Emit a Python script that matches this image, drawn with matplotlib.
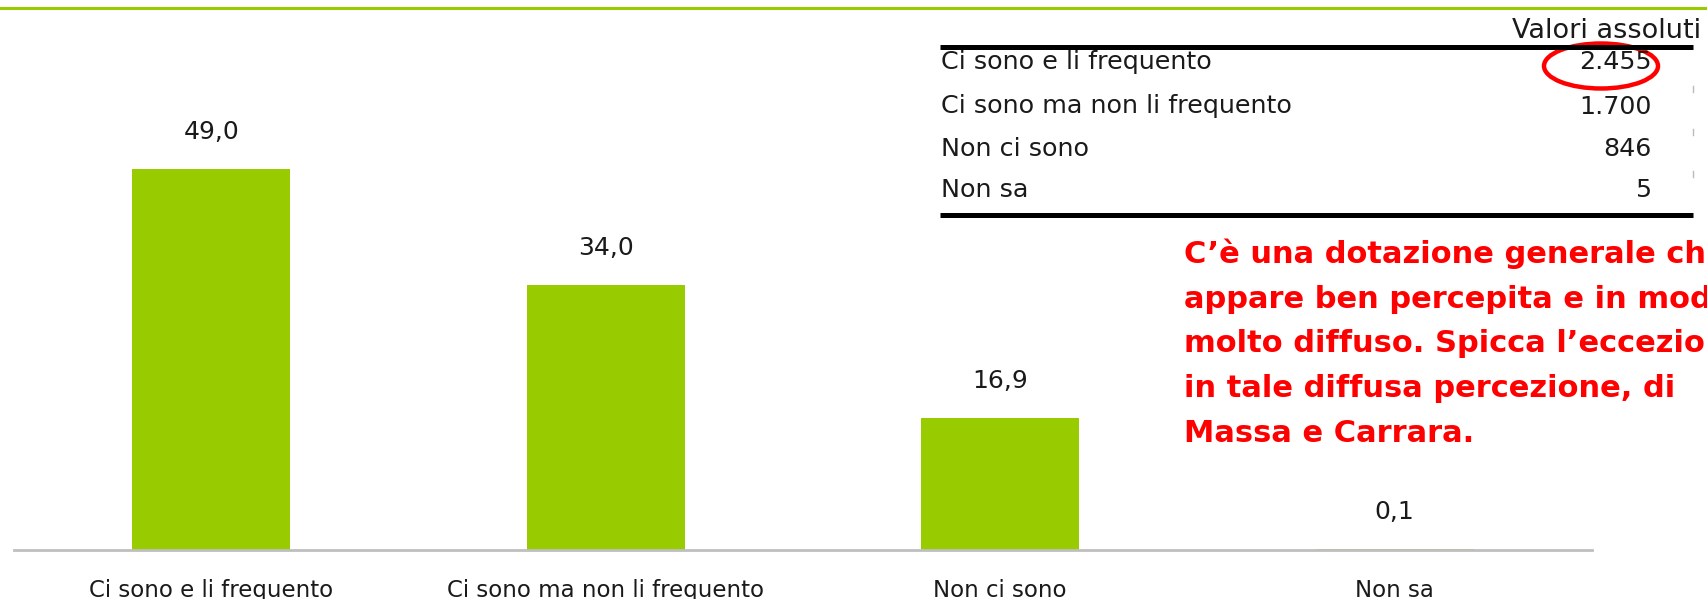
import matplotlib
matplotlib.use("Agg")
import matplotlib.pyplot as plt
from matplotlib.patches import Ellipse
from matplotlib.lines import Line2D

# ---- data ----
categories = ["Ci sono e li frequento", "Ci sono ma non li frequento", "Non ci sono", "Non sa"]
percentages = [49.0, 34.0, 16.9, 0.1]
absolute_values = [2455, 1700, 846, 5]
table_header = "Valori assoluti"
note_lines = [
    "C\u2019è una dotazione generale che",
    "appare ben percepita e in modo",
    "molto diffuso. Spicca l\u2019eccezione,",
    "in tale diffusa percezione, di",
    "Massa e Carrara.",
]

GREEN = "#99CC00"
W, H = 1708, 599

def fmt_pct(v):
    return f"{v:.1f}".replace(".", ",")

def fmt_abs(v):
    return f"{v:,}".replace(",", ".")

fig = plt.figure(figsize=(W / 100, H / 100), dpi=100)
fig.patch.set_facecolor("white")

# main bar axes
ax = fig.add_axes([14 / W, 49.5 / H, (1592 - 14) / W, 543.6 / H])
x = list(range(len(categories)))
ax.bar(x, percentages, width=0.4, color=GREEN, zorder=2)
ax.set_xlim(-0.5, len(categories) - 0.5)
ax.set_ylim(0, 70)
for s in ["top", "right", "left"]:
    ax.spines[s].set_visible(False)
ax.spines["bottom"].set_color("#BFBFBF")
ax.spines["bottom"].set_linewidth(2.0)
ax.set_xticks([])
ax.set_yticks([])
ax.patch.set_alpha(0)

for xi, v, cat in zip(x, percentages, categories):
    ax.annotate(fmt_pct(v), xy=(xi, v), xytext=(0, 30), textcoords="offset pixels",
                ha="center", va="baseline", fontsize=18, color="#1a1a1a")
    ax.annotate(cat, xy=(xi, 0), xytext=(0, -47.5), textcoords="offset pixels",
                ha="center", va="baseline", fontsize=16.5, color="#1a1a1a",
                annotation_clip=False)

# overlay axes in pixel coordinates for decorations / table / note
ov = fig.add_axes([0, 0, 1, 1])
ov.set_xlim(0, W)
ov.set_ylim(H, 0)
ov.axis("off")
ov.patch.set_alpha(0)

# top green rule
ov.add_line(Line2D([0, W], [7.5, 7.5], color=GREEN, lw=2.2))

# table
ov.text(1701, 38, table_header, ha="right", va="baseline", fontsize=19.5, color="#1a1a1a")
ov.add_line(Line2D([940, 1693], [46.5, 46.5], color="black", lw=3.6, solid_capstyle="butt"))
ov.add_line(Line2D([940, 1693], [215, 215], color="black", lw=3.6, solid_capstyle="butt"))
row_y = [69, 113.5, 156.5, 197]
for yy, lab, val in zip(row_y, categories, absolute_values):
    ov.text(941, yy, lab, ha="left", va="baseline", fontsize=18.3, color="#1a1a1a")
    ov.text(1652, yy, fmt_abs(val), ha="right", va="baseline", fontsize=18.3, color="#1a1a1a")
for y0 in [86, 129, 171]:
    ov.add_line(Line2D([1693, 1693], [y0, y0 + 6], color="#BBBBBB", lw=1))

# red ellipse highlight
ov.add_patch(Ellipse((1601, 66), 114, 45, fill=False, edgecolor="#FF0000", lw=3.2))

# red note
for i, line in enumerate(note_lines):
    ov.text(1184, 263 + i * 44.75, line, ha="left", va="baseline", fontsize=22,
            fontweight="bold", color="#FF0000")

fig.savefig("out.png", dpi=100, facecolor="white")
